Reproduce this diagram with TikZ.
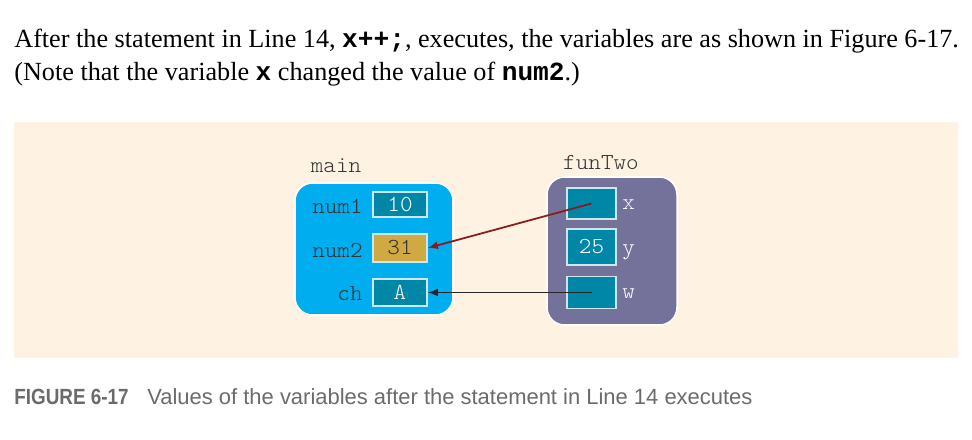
\documentclass[tikz,border=0pt]{standalone}
\usepackage{fontspec}
\setmainfont{Liberation Serif}
\newfontfamily\codefont{Liberation Mono}
\newfontfamily\cellfont[FakeStretch=1.05]{Latin Modern Mono Light}
\newfontfamily\capfont{Liberation Sans}
\newfontfamily\capnarrow[FakeStretch=0.86]{Liberation Sans}

\definecolor{paper}{HTML}{FEF2E2}
\definecolor{mainblue}{HTML}{00ADEF}
\definecolor{funpurple}{HTML}{74729A}
\definecolor{cellblue}{HTML}{0087A8}
\definecolor{cellgold}{HTML}{D0A942}
\definecolor{arrowred}{HTML}{8B1A1A}
\definecolor{capgrey}{HTML}{6B6B6B}

\begin{document}
\begin{tikzpicture}[x=0.02cm,y=-0.02cm,>=latex,
    frame/.style={draw=white, line width=0.3mm, rounded corners=10pt, inner sep=0pt},
    cell/.style={draw=white!80!cellblue, fill=cellblue, line width=0.3mm, inner sep=0pt,
        text=white, font=\cellfont\fontsize{13}{13}\selectfont},
    varname/.style={text=black!80, inner sep=0pt, font=\cellfont\fontsize{13}{13}\selectfont},
    body/.style={anchor=base west, inner sep=0pt, font=\fontsize{14.9}{17}\selectfont}]
    \useasboundingbox (0,0) rectangle (972,439);

    % text above the figure
    \node[body] (line1) at (14,48) {After the statement in Line 14, \textbf{\codefont x++;}, executes, the variables are as shown in Figure 6-17.};
    \node[body] (line2) at (14,80) {(Note that the variable \textbf{\codefont x} changed the value of \textbf{\codefont num2}.)};

    % figure background
    \fill[paper] (14,122) rectangle (958,358);

    % main
    \node[varname] (mainlbl) at (336,166) {main};
    \node[frame, fill=mainblue, minimum width=3.16cm, minimum height=2.64cm] (main) at (374,249) {};
    \node[cell, minimum width=1.08cm, minimum height=0.5cm] (num1cell) at (400,204.5) {10};
    \node[cell, fill=cellgold, text=black!80, minimum width=1.08cm, minimum height=0.56cm] (num2cell) at (400,248) {31};
    \node[cell, minimum width=1.08cm, minimum height=0.54cm] (chcell) at (400,292.5) {A};
    \node[varname, anchor=east] (num1lbl) at (363,206) {num1};
    \node[varname, anchor=east] (num2lbl) at (363,250) {num2};
    \node[varname, anchor=east] (chlbl) at (363,294) {ch};

    % funTwo
    \node[varname] (funlbl) at (601,163) {funTwo};
    \node[frame, fill=funpurple, minimum width=2.6cm, minimum height=2.96cm] (funtwo) at (612,251) {};
    \node[cell, minimum width=0.98cm, minimum height=0.62cm] (xcell) at (591.5,203.5) {};
    \node[cell, minimum width=0.98cm, minimum height=0.72cm] (ycell) at (591.5,247) {25};
    \node[cell, minimum width=0.98cm, minimum height=0.64cm] (wcell) at (591.5,292.5) {};
    \node[varname, text=white, anchor=west] (xlbl) at (622,205) {x};
    \node[varname, text=white, anchor=west] (ylbl) at (622,252) {y};
    \node[varname, text=white, anchor=west] (wlbl) at (622,294) {w};

    % references
    \draw[->, arrowred, line width=0.35mm] (xcell.center) -- (num2cell.east);
    \draw[->, black!85, line width=0.35mm] (wcell.center) -- (chcell.east);

    % caption
    \node[anchor=base west, inner sep=0pt, text=capgrey, font=\capnarrow\bfseries\fontsize{12.5}{14}\selectfont] (capnum) at (14,404) {FIGURE 6-17};
    \node[anchor=base west, inner sep=0pt, text=capgrey, font=\capfont\fontsize{12.5}{14}\selectfont] (captext) at (147,404) {Values of the variables after the statement in Line 14 executes};
\end{tikzpicture}
\end{document}
